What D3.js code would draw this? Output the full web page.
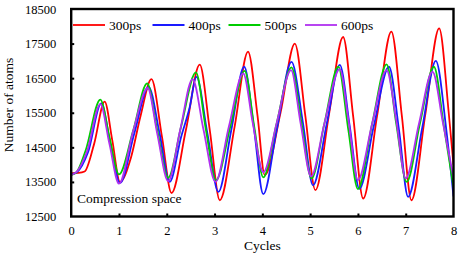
<!DOCTYPE html>
<html>
<head>
<meta charset="utf-8">
<script src="https://cdn.jsdelivr.net/npm/d3@7"></script>
<style>
  body { margin: 0; background: #fff; }
</style>
</head>
<body>
<div id="chart"></div>
<script>
// series: [cycle, number of atoms]
const ps300 = [
  [0, 13750], [0.15, 13760], [0.28, 13800], [0.48, 14600], [0.70, 15820], [0.86, 14700],
  [1.02, 13500], [1.25, 14200], [1.45, 15400], [1.68, 16470], [1.9, 14800],
  [2.10, 13180], [2.4, 15000], [2.69, 16890], [2.9, 15000],
  [3.11, 12970], [3.42, 15100], [3.70, 17270], [3.9, 15400],
  [4.05, 13700], [4.38, 15500], [4.68, 17500], [4.9, 15400],
  [5.11, 13260], [5.4, 15500], [5.69, 17690], [5.9, 15400],
  [6.11, 13020], [6.4, 15400], [6.70, 17845], [6.92, 15400],
  [7.12, 12970], [7.41, 15450], [7.70, 17940], [7.9, 15500], [8.0, 14000]
];
const ps400 = [
  [0, 13720], [0.12, 13780], [0.35, 14350], [0.63, 15770], [0.82, 14600],
  [1.02, 13470], [1.32, 14900], [1.62, 16250], [1.85, 14900],
  [2.06, 13500], [2.3, 14800], [2.48, 15660], [2.62, 16540], [2.85, 14900],
  [3.08, 13210], [3.35, 15000], [3.62, 16830], [3.82, 15100],
  [4.02, 13145], [4.3, 15000], [4.61, 16970], [4.85, 15200],
  [5.06, 13400], [5.35, 15200], [5.62, 16885], [5.83, 15100],
  [6.03, 13300], [6.33, 15100], [6.65, 16830], [6.86, 15000],
  [7.05, 13070], [7.35, 15100], [7.63, 17000], [7.85, 15000], [8.0, 13080]
];
const ps500 = [
  [0, 13700], [0.1, 13760], [0.3, 14400], [0.61, 15880], [0.8, 14800],
  [1.0, 13720], [1.3, 15000], [1.59, 16350], [1.8, 15000],
  [2.03, 13620], [2.3, 15100], [2.61, 16665], [2.82, 15000],
  [3.03, 13550], [3.33, 15100], [3.63, 16710], [3.83, 15100],
  [4.02, 13630], [4.3, 15200], [4.61, 16810], [4.82, 15200],
  [5.03, 13600], [5.3, 15200], [5.59, 16830], [5.8, 15000],
  [6.0, 13290], [6.3, 15200], [6.6, 16900], [6.8, 15200],
  [7.02, 13500], [7.3, 15200], [7.59, 16830], [7.8, 15100], [8.0, 13350]
];
const ps600 = [
  [0, 13700], [0.12, 13800], [0.33, 14380], [0.61, 15750], [0.8, 14600],
  [1.0, 13450], [1.3, 14990], [1.6, 16215], [1.8, 14900],
  [2.03, 13520], [2.28, 15000], [2.54, 16475], [2.77, 15000],
  [3.02, 13500], [3.3, 15100], [3.60, 16635], [3.8, 15200],
  [4.02, 13780], [4.3, 15200], [4.60, 16730], [4.8, 15200],
  [5.02, 13660], [5.3, 15200], [5.62, 16760], [5.8, 15300],
  [6.0, 13550], [6.3, 15200], [6.6, 16730], [6.8, 15300],
  [7.0, 13600], [7.28, 15200], [7.56, 16690], [7.78, 15200], [8.0, 13620]
];

const seriesNames = ["300ps", "400ps", "500ps", "600ps"];
const seriesData = [ps300, ps400, ps500, ps600];
const colors = ["#ff0000", "#1a1aff", "#00cc00", "#b030f0"];
const yTicks = [12500, 13500, 14500, 15500, 16500, 17500, 18500];
const xTicks = [0, 1, 2, 3, 4, 5, 6, 7, 8];

const width = 458, height = 256;
const plotLeft = 71.2, plotRight = 453.5, plotTop = 9, plotBottom = 216.5;
const serif = "'Liberation Serif', 'Times New Roman', Times, 'DejaVu Serif', serif";

const svg = d3.select("#chart").append("svg")
  .attr("width", width)
  .attr("height", height)
  .style("font-family", serif);

const x = d3.scaleLinear().domain([0, 8]).range([plotLeft, plotRight]);
const y = d3.scaleLinear().domain([12500, 18500]).range([plotBottom, plotTop]);

svg.append("clipPath").attr("id", "clip")
  .append("rect")
  .attr("x", plotLeft).attr("y", plotTop)
  .attr("width", plotRight - plotLeft).attr("height", plotBottom - plotTop);

const line = d3.line()
  .x(d => x(d[0]))
  .y(d => y(d[1]))
  .curve(d3.curveMonotoneX);

const plot = svg.append("g").attr("clip-path", "url(#clip)");
seriesData.forEach((s, i) => {
  plot.append("path")
    .datum(s)
    .attr("fill", "none")
    .attr("stroke", colors[i])
    .attr("stroke-width", 1.8)
    .attr("d", line);
});

// axes with inward ticks
const yAxis = d3.axisLeft(y).tickValues(yTicks).tickSize(-3).tickPadding(15)
  .tickFormat(d3.format("d"));
const gy = svg.append("g").attr("transform", `translate(${plotLeft},0)`).call(yAxis)
  .attr("font-family", serif).attr("font-size", 12.5);
gy.select(".domain").remove();
gy.selectAll(".tick line").attr("stroke-width", 2)
  .filter(d => d === 12500 || d === 18500).remove();

const xAxis = d3.axisBottom(x).tickValues(xTicks).tickSize(-3).tickPadding(10);
const gx = svg.append("g").attr("transform", `translate(0,${plotBottom})`).call(xAxis)
  .attr("font-family", serif).attr("font-size", 12.5);
gx.select(".domain").remove();
gx.selectAll(".tick line").attr("stroke-width", 2)
  .filter(d => d === 0 || d === 8).remove();

// frame
svg.append("rect")
  .attr("x", plotLeft).attr("y", plotTop)
  .attr("width", plotRight - plotLeft).attr("height", plotBottom - plotTop)
  .attr("fill", "none")
  .attr("stroke", "#000")
  .attr("stroke-width", 2.4);

// legend
const legendX = [73, 152.5, 228.5, 305];
seriesNames.forEach((name, i) => {
  svg.append("line")
    .attr("x1", legendX[i]).attr("x2", legendX[i] + 32)
    .attr("y1", 25).attr("y2", 25)
    .attr("stroke", colors[i]).attr("stroke-width", 1.8);
  svg.append("text")
    .attr("x", legendX[i] + 36).attr("y", 29.5)
    .style("font-size", "13.5px")
    .text(name);
});

svg.append("text")
  .attr("x", 77).attr("y", 203)
  .style("font-size", "13.5px")
  .text("Compression space");

svg.append("text")
  .attr("x", (plotLeft + plotRight) / 2).attr("y", 250)
  .attr("text-anchor", "middle")
  .style("font-size", "13.5px")
  .text("Cycles");

svg.append("text")
  .attr("transform", "translate(13,105) rotate(-90)")
  .attr("text-anchor", "middle")
  .style("font-size", "13.5px")
  .text("Number of atoms");
</script>
</body>
</html>
